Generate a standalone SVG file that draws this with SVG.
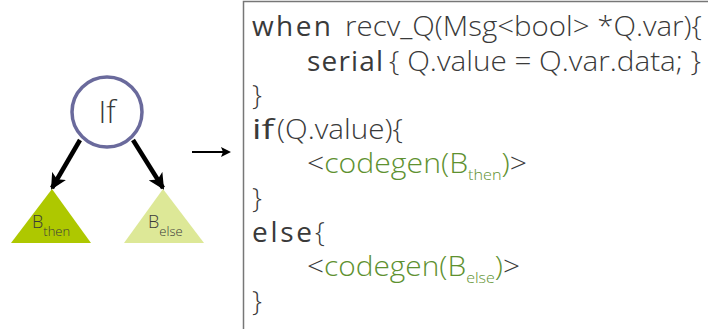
<svg xmlns="http://www.w3.org/2000/svg" width="708" height="329" viewBox="0 0 708 329">
<style>
.code{font-family:"Open Sans","Noto Sans",sans-serif;font-size:28px;font-weight:300;fill:#3a3a3a}
.kw{font-weight:400}
.g{fill:#5e9130}
.sub{font-size:15px}
.lbl{font-family:"Open Sans","Noto Sans",sans-serif;font-weight:300;fill:#3a3a3a}
</style>
<defs>
<marker id="ah" markerWidth="10" markerHeight="10" refX="8" refY="5" orient="auto" markerUnits="userSpaceOnUse" viewBox="0 0 10 10">
<path d="M0,0 L10,5 L0,10 L2,5 Z" fill="#000"/>
</marker>
<marker id="ahb" markerWidth="16" markerHeight="16" refX="14" refY="8" orient="auto" markerUnits="userSpaceOnUse" viewBox="0 0 16 16">
<path d="M0,0 L16,8 L0,16 L4,8 Z" fill="#000"/>
</marker>
</defs>
<rect x="0" y="0" width="708" height="329" fill="#fff"/>
<g id="codebox">
<path d="M243.5,340 V1.5 H720" fill="none" stroke="#777" stroke-width="1.5"/>
<text class="code kw" x="252" y="36" textLength="79" lengthAdjust="spacing">when</text>
<text class="code" x="345" y="36" textLength="357" lengthAdjust="spacingAndGlyphs">recv_Q(Msg&lt;bool&gt; *Q.var){</text>
<text class="code kw" x="307" y="71" textLength="76" lengthAdjust="spacing">serial</text>
<text class="code" x="389" y="71" textLength="312" lengthAdjust="spacingAndGlyphs">{ Q.value = Q.var.data; }</text>
<text class="code" x="252" y="105">}</text>
<text class="code kw" x="252" y="139" textLength="22" lengthAdjust="spacingAndGlyphs">if</text>
<text class="code" x="277" y="139" textLength="126" lengthAdjust="spacingAndGlyphs">(Q.value){</text>
<text class="code" x="307" y="173" textLength="220" lengthAdjust="spacingAndGlyphs">&lt;<tspan class="g">codegen(B</tspan><tspan class="g sub" dy="7">then</tspan><tspan class="g" dy="-7">)</tspan>&gt;</text>
<text class="code" x="252" y="208">}</text>
<text class="code kw" x="252" y="242" textLength="60" lengthAdjust="spacing">else</text>
<text class="code" x="315" y="242">{</text>
<text class="code" x="307" y="276" textLength="213" lengthAdjust="spacingAndGlyphs">&lt;<tspan class="g">codegen(B</tspan><tspan class="g sub" dy="7">else</tspan><tspan class="g" dy="-7">)</tspan>&gt;</text>
<text class="code" x="252" y="311">}</text>
</g>
<g id="if-node">
<circle cx="107" cy="112" r="35" fill="#fff" stroke="#6a6a9c" stroke-width="3.5"/>
<text class="lbl" x="107" y="123" font-size="31" text-anchor="middle">If</text>
</g>
<g id="b-then">
<polygon points="52,189 91,243 11,243" fill="#aec800"/>
<text class="lbl" x="32" y="228" font-size="18">B<tspan font-size="13" dy="8">then</tspan></text>
</g>
<g id="b-else">
<polygon points="163,189 204,243 124,243" fill="#dde897"/>
<text class="lbl" x="148" y="228" font-size="18">B<tspan font-size="13" dy="8">else</tspan></text>
</g>
<g id="connectors">
<line x1="80" y1="140" x2="52" y2="188" stroke="#000" stroke-width="4.5" marker-end="url(#ahb)"/>
<line x1="133" y1="140" x2="163" y2="188" stroke="#000" stroke-width="4.5" marker-end="url(#ahb)"/>
<line x1="192" y1="152" x2="229" y2="152" stroke="#000" stroke-width="2" marker-end="url(#ah)"/>
</g>
</svg>
